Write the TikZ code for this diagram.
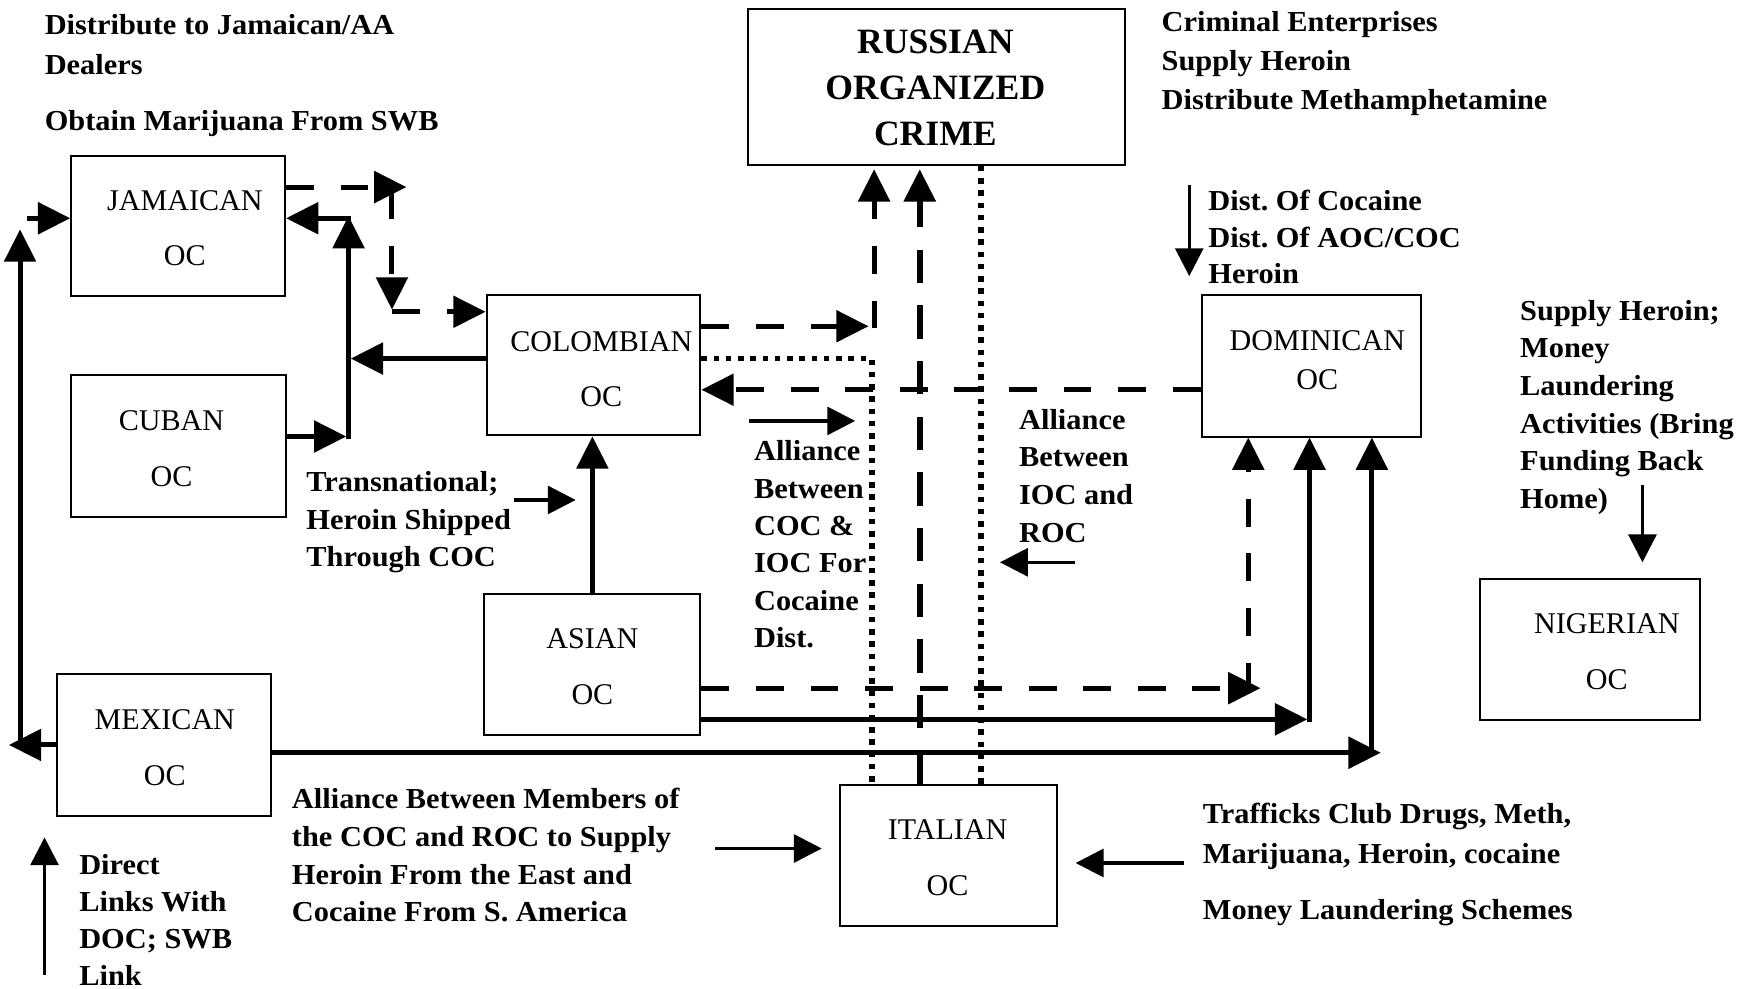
\documentclass[tikz,border=0pt]{standalone}
\usepackage{fontspec}
\setmainfont{Liberation Serif}
\newfontfamily\annfont{Liberation Serif}[FakeStretch=1.05]
\usetikzlibrary{arrows.meta}
\frenchspacing

\begin{document}
\begin{tikzpicture}[x=1pt,y=-1pt,
  box/.style={draw, line width=1.8pt, inner sep=0pt},
  lbl/.style={inner sep=0pt, align=center, font=\fontsize{27}{#1}\selectfont},
  lbl/.default=50,
  ann/.style={anchor=north west, inner sep=0pt, align=left,
    font=\annfont\bfseries\fontsize{26}{#1}\selectfont},
  ann/.default=33.7,
  sl/.style={line width=4.5pt},
  dl/.style={line width=4.5pt, dash pattern=on 25pt off 24pt},
  dt/.style={line width=5pt, dash pattern=on 5pt off 6pt},
  hd/.style={-{Triangle[length=29pt,width=28pt]}},
  fa/.style={line width=3pt, -{Triangle[length=25pt,width=25pt]}},
]
\useasboundingbox (0,0) rectangle (1568,888);
\fill[white] (0,0) rectangle (1568,888);

% ---- organisations ----
\node[box, minimum width=192pt, minimum height=126pt] (jam) at (160,203) {};
\node[lbl] (jamt) at (166,205) {JAMAICAN\\OC};
\node[box, minimum width=193pt, minimum height=127pt] (cub) at (160.5,400.5) {};
\node[lbl] (cubt) at (154,403) {CUBAN\\OC};
\node[box, minimum width=192pt, minimum height=126pt] (col) at (533,328) {};
\node[lbl] (colt) at (540,331.5) {COLOMBIAN\\OC};
\node[box, minimum width=194pt, minimum height=127pt] (asi) at (532,596.5) {};
\node[lbl] (asit) at (532,598.5) {ASIAN\\OC};
\node[box, minimum width=192pt, minimum height=128pt] (mex) at (147,669) {};
\node[lbl] (mext) at (148,671.5) {MEXICAN\\OC};
\node[box, minimum width=338pt, minimum height=140pt] (rus) at (841,78) {};
\node[lbl, font=\bfseries\fontsize{32}{41}\selectfont] (rust) at (840,79) {RUSSIAN\\ORGANIZED\\CRIME};
\node[box, minimum width=195pt, minimum height=127pt] (ita) at (851.5,768.5) {};
\node[lbl] (itat) at (851,770) {ITALIAN\\OC};
\node[box, minimum width=197pt, minimum height=127pt] (dom) at (1177.5,328.5) {};
\node[lbl=35] (domt) at (1183,323.5) {DOMINICAN\\OC};
\node[box, minimum width=198pt, minimum height=127pt] (nig) at (1428,583.5) {};
\node[lbl] (nigt) at (1443,585.5) {NIGERIAN\\OC};

% ---- notes ----
\node[ann=36] (n1) at (40,12.4) {Distribute to Jamaican/AA\\Dealers\\[15pt]Obtain Marijuana From SWB};
\node[ann=35] (n2) at (1043,10.4) {Criminal Enterprises\\Supply Heroin\\Distribute Methamphetamine};
\node[ann=33] (n3) at (1085,170.4) {Dist. Of Cocaine\\Dist. Of AOC/COC\\Heroin};
\node[ann=33.8] (n4) at (1365,269.4) {Supply Heroin;\\Money\\Laundering\\Activities (Bring\\Funding Back\\Home)};
\node[ann=33.6] (n5) at (677,395.4) {Alliance\\Between\\COC \&\\IOC For\\Cocaine\\Dist.};
\node[ann=33.7] (n6) at (915,367.4) {Alliance\\Between\\IOC and\\ROC};
\node[ann=33.5] (n7) at (275,423.4) {Transnational;\\Heroin Shipped\\Through COC};
\node[ann=34] (n8) at (262,707.4) {Alliance Between Members of\\the COC and ROC to Supply\\Heroin From the East and\\Cocaine From S. America};
\node[ann=36] (n9) at (1080,721.4) {Trafficks Club Drugs, Meth,\\Marijuana, Heroin, cocaine\\[14pt]Money Laundering Schemes};
\node[ann=33] (n10) at (71,767.4) {Direct\\Links With\\DOC; SWB\\Link};

% ---- Mexican to Jamaican along the left margin ----
\coordinate (mxl) at (8,669);
\coordinate (lb) at (18,669);
\coordinate (lt) at (18,206);
\coordinate (jl) at (24,196);
\draw[sl,hd] (mex.west) -- (mxl);
\draw[sl,hd] (lb) -- (lt);
\draw[sl,hd] (jl) -- (jl -| jam.west);

% ---- Cuban / Colombian to Jamaican ----
\coordinate (cj1) at (311,392);
\coordinate (cj2) at (313,394);
\coordinate (cj3) at (313,194);
\coordinate (cj4) at (315,196);
\draw[sl,hd] (cj1 -| cub.east) -- (cj1);
\draw[sl,hd] (cj2) -- (cj3);
\draw[sl,hd] (cj4) -- (cj4 -| jam.east);
\coordinate (cc) at (315,322);
\draw[sl,hd] (col.west |- cc) -- (cc);

% ---- Jamaican to Colombian (dashed) ----
\coordinate (jd1) at (365,168);
\coordinate (jd2) at (352,172);
\coordinate (jd3) at (352,278);
\coordinate (jd4) at (352,280);
\draw[dl,hd] (jam.east |- jd1) -- (jd1);
\draw[dl,hd] (jd2) -- (jd3);
\draw[dl,hd] (jd4) -- (jd4 -| col.west);

% ---- Colombian to Russian (dashed) ----
\coordinate (cr1) at (780,293);
\coordinate (cr2) at (785,295);
\coordinate (cr3) at (785,152);
\draw[dl,hd] (col.east |- cr1) -- (cr1);
\draw[dl,hd] (cr2) -- (cr3);

% ---- Italian to Russian (dashed) ----
\coordinate (ix) at (826,152);
\draw[line width=5pt, dash pattern=on 30pt off 20pt, hd] (ix |- ita.north) -- (ix);

% ---- alliances (dotted) ----
\coordinate (dc) at (783,322);
\draw[dt] (col.east |- dc) -- (dc) -- (dc |- ita.north);
\coordinate (dr) at (881,300);
\draw[dt] (dr |- rus.south) -- (dr |- ita.north);

% ---- Dominican to Colombian (dashed) ----
\coordinate (dm) at (900,350);
\draw[dl,hd] (dom.west |- dm) -- (col.east |- dm);

% ---- Asian to Colombian ----
\draw[sl,hd] (asi.north) -- (asi.north |- col.south);

% ---- Asian to Dominican ----
\coordinate (ad0) at (1132,618);
\coordinate (ad) at (1121,620);
\draw[dl,hd] (asi.east |- ad0) -- (ad0);
\draw[dl,hd] (ad) -- (ad |- dom.south);
\coordinate (as) at (1174,646);
\coordinate (as2) at (1176,648);
\draw[sl,hd] (asi.east |- as) -- (as);
\draw[sl,hd] (as2) -- (as2 |- dom.south);

% ---- Mexican to Dominican ----
\coordinate (ms) at (1240,676);
\coordinate (ms2) at (1232,678);
\draw[sl,hd] (mex.east |- ms) -- (ms);
\draw[sl,hd] (ms2) -- (ms2 |- dom.south);

% ---- pointers beside the notes ----
\coordinate (f1a) at (673,378); \coordinate (f1b) at (768,378);
\coordinate (f2a) at (965,505); \coordinate (f2b) at (898,505);
\coordinate (f3a) at (462,449); \coordinate (f3b) at (517,449);
\coordinate (f4a) at (642,762); \coordinate (f4b) at (738,762);
\coordinate (f5a) at (1063,775); \coordinate (f5b) at (966,775);
\coordinate (f6a) at (1068,166); \coordinate (f6b) at (1068,248);
\coordinate (f7a) at (1475,436); \coordinate (f7b) at (1475,505);
\coordinate (f8a) at (40,876); \coordinate (f8b) at (40,752);
\draw[fa] (f1a) -- (f1b);
\draw[fa] (f2a) -- (f2b);
\draw[fa] (f3a) -- (f3b);
\draw[fa] (f4a) -- (f4b);
\draw[fa] (f5a) -- (f5b);
\draw[fa] (f6a) -- (f6b);
\draw[fa] (f7a) -- (f7b);
\draw[fa] (f8a) -- (f8b);
\end{tikzpicture}
\end{document}
